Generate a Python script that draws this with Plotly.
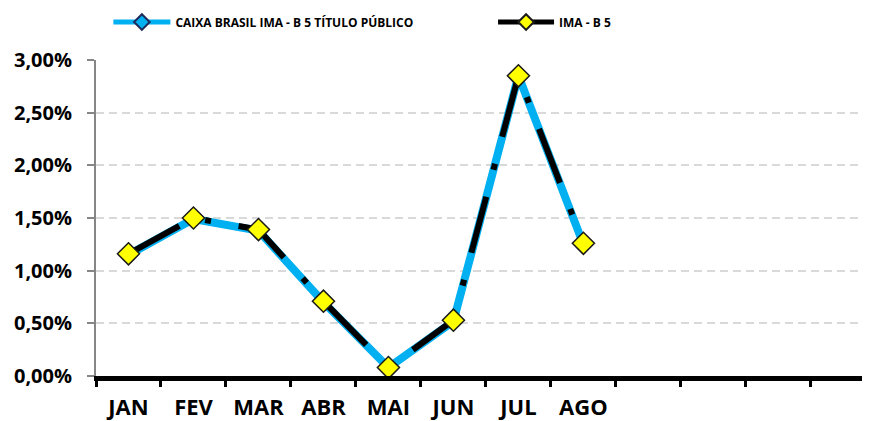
import plotly.graph_objects as go

# Data (percent)
months = ["JAN", "FEV", "MAR", "ABR", "MAI", "JUN", "JUL", "AGO", "SET", "OUT", "NOV", "DEZ"]
month_labels = ["JAN", "FEV", "MAR", "ABR", "MAI", "JUN", "JUL", "AGO", "", "", "", ""]
caixa_values = [1.15, 1.49, 1.38, 0.70, 0.08, 0.52, 2.85, 1.25]
ima_values = [1.16, 1.50, 1.39, 0.71, 0.08, 0.53, 2.85, 1.26]
y_ticks = [0, 0.5, 1.0, 1.5, 2.0, 2.5, 3.0]
y_tick_labels = ["0,00%", "0,50%", "1,00%", "1,50%", "2,00%", "2,50%", "3,00%"]

FONT = "Open Sans, Liberation Sans, sans-serif"

fig = go.Figure()
fig.add_trace(go.Scatter(
    x=months[:len(caixa_values)], y=caixa_values,
    name="CAIXA BRASIL IMA - B 5 TÍTULO PÚBLICO",
    mode="lines+markers",
    line=dict(color="#00B0F0", width=8),
    marker=dict(symbol="diamond", size=8, color="#00B0F0",
                line=dict(color="#1F2A5A", width=1.5)),
    legend="legend",
))
fig.add_trace(go.Scatter(
    x=months[:len(ima_values)], y=ima_values,
    name="IMA - B 5",
    mode="lines+markers",
    line=dict(color="#000000", width=6, dash="58px,28px,6px,28px"),
    marker=dict(symbol="diamond", size=17, color="#FFFF00",
                line=dict(color="#1A1A1A", width=1.5)),
    legend="legend2",
))

# page body has an 8px margin: figure is 862x413 placed at (8, 8)
fig.update_layout(
    width=862, height=413,
    margin=dict(l=88, r=0, t=52, b=45, autoexpand=False),
    paper_bgcolor="white", plot_bgcolor="white",
    separators=",.",
    font=dict(family=FONT, color="#000000"),
    showlegend=True,
    legend=dict(x=0.016, y=1.12, xanchor="left", yanchor="middle",
                orientation="h", bgcolor="rgba(0,0,0,0)",
                itemwidth=57, itemsizing="constant",
                font=dict(family=FONT, size=12, color="#000000", weight="bold")),
    legend2=dict(x=0.513, y=1.12, xanchor="left", yanchor="middle",
                 orientation="h", bgcolor="rgba(0,0,0,0)",
                 itemwidth=56, itemsizing="constant",
                 font=dict(family=FONT, size=12, color="#000000", weight="bold")),
)

fig.update_xaxes(
    type="category",
    categoryorder="array", categoryarray=months,
    tickmode="array", tickvals=months, ticktext=month_labels,
    range=[-0.5, 11.41],
    tickson="boundaries", tickangle=0, automargin=False,
    showline=True, linecolor="#000000", linewidth=5,
    ticks="outside", ticklen=6, tickwidth=3, tickcolor="#000000",
    showgrid=False, zeroline=False,
    tickfont=dict(family=FONT, size=22, color="#000000", weight="bold"),
    ticklabelstandoff=8,
)
fig.update_yaxes(
    range=[0, 3], tickmode="array", tickvals=y_ticks, ticktext=y_tick_labels,
    automargin=False,
    showline=True, linecolor="#868686", linewidth=2,
    ticks="outside", ticklen=7, tickwidth=1.5, tickcolor="#868686",
    showgrid=True, gridcolor="#D9D9D9", gridwidth=1.5, griddash="8px,5px",
    zeroline=False,
    tickfont=dict(family=FONT, size=20, color="#000000", weight="bold"),
    ticklabelstandoff=11,
)

fig.write_html("out.html")
